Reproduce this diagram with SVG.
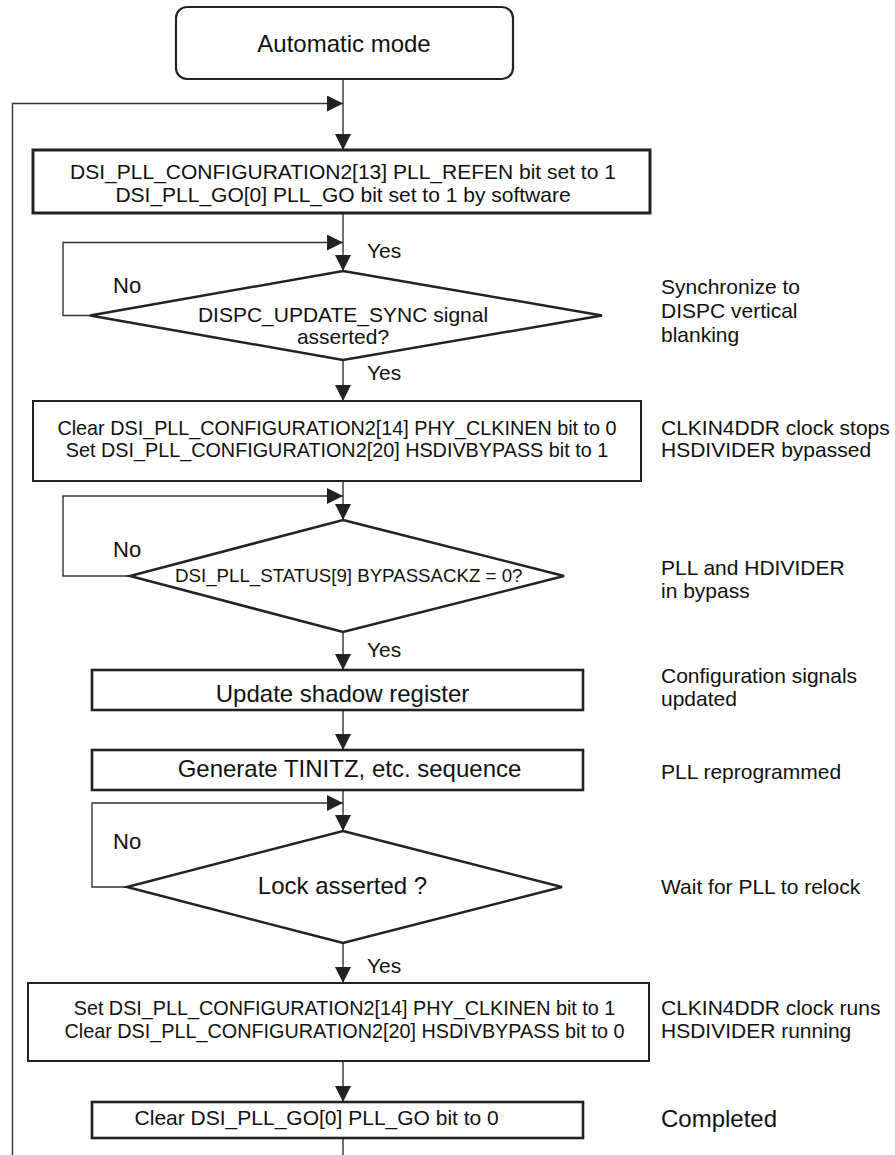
<svg xmlns="http://www.w3.org/2000/svg" width="895" height="1155" viewBox="0 0 895 1155">
<style>
text{font-family:"Liberation Sans",Arial,Helvetica,sans-serif;fill:#111;}
.c{text-anchor:middle;}
.f21{font-size:21px;}
.f20{font-size:19.8px;}
.f19{font-size:18.7px;}
.f24{font-size:24px;}
.box{fill:#fff;stroke:#222;}
.conn{fill:none;stroke:#333;stroke-width:1.4;}
</style>
<defs>
<marker id="arr" markerUnits="userSpaceOnUse" markerWidth="16" markerHeight="16" refX="16" refY="8" orient="auto" viewBox="0 0 16 16">
<path d="M0,0 L16,8 L0,16 z" fill="#222"/>
</marker>
</defs>
<rect width="895" height="1155" fill="#fff"/>
<g id="connectors">
<path class="conn" d="M343,79 V150" marker-end="url(#arr)"/>
<path class="conn" d="M343,1138 V1165 H12.5 V103.5 H343" marker-end="url(#arr)"/>
<path class="conn" d="M343,213 V271" marker-end="url(#arr)"/>
<path class="conn" d="M90,315.5 H63 V242.5 H343" marker-end="url(#arr)"/>
<path class="conn" d="M343,360 V401" marker-end="url(#arr)"/>
<path class="conn" d="M343,481 V520" marker-end="url(#arr)"/>
<path class="conn" d="M130,576 H63 V496 H343" marker-end="url(#arr)"/>
<path class="conn" d="M343,632 V670" marker-end="url(#arr)"/>
<path class="conn" d="M343,710 V750" marker-end="url(#arr)"/>
<path class="conn" d="M343,790 V831" marker-end="url(#arr)"/>
<path class="conn" d="M127,887 H92 V803 H343" marker-end="url(#arr)"/>
<path class="conn" d="M343,943 V983" marker-end="url(#arr)"/>
<path class="conn" d="M343,1061 V1102" marker-end="url(#arr)"/>
<text class="f21" x="367" y="258">Yes</text>
<text class="f22" x="113" y="293" style="font-size:22px">No</text>
<text class="f21" x="367" y="380">Yes</text>
<text x="113" y="557" style="font-size:22px">No</text>
<text class="f21" x="367" y="657">Yes</text>
<text x="113" y="849" style="font-size:22px">No</text>
<text class="f21" x="367" y="973">Yes</text>
</g>
<g id="start">
<rect class="box" x="176" y="7" width="337" height="72" rx="11" stroke-width="2.2"/>
<text class="c f24" x="344" y="52">Automatic mode</text>
</g>
<g id="set-go">
<rect class="box" x="33" y="150" width="617" height="63" stroke-width="3"/>
<text class="c f21" x="343" y="178.5">DSI_PLL_CONFIGURATION2[13] PLL_REFEN bit set to 1</text>
<text class="c f21" x="343" y="201.5">DSI_PLL_GO[0] PLL_GO bit set to 1 by software</text>
</g>
<g id="sync-decision">
<polygon class="box" points="343,271 602,315.5 343,360 90,315.5" stroke-width="2.5"/>
<text class="c f21" x="343" y="321.5">DISPC_UPDATE_SYNC signal</text>
<text class="c f21" x="343" y="343.5">asserted?</text>
</g>
<g id="bypass-set">
<rect class="box" x="33" y="401" width="608" height="80" stroke-width="2"/>
<text class="c f20" x="337" y="435">Clear DSI_PLL_CONFIGURATION2[14] PHY_CLKINEN bit to 0</text>
<text class="c f20" x="337" y="457.3">Set DSI_PLL_CONFIGURATION2[20] HSDIVBYPASS bit to 1</text>
</g>
<g id="bypass-decision">
<polygon class="box" points="343,520 564,576 343,632 130,576" stroke-width="2.5"/>
<text class="c f19" x="348.8" y="582">DSI_PLL_STATUS[9] BYPASSACKZ = 0?</text>
</g>
<g id="shadow">
<rect class="box" x="92" y="670" width="491" height="40" stroke-width="2.6"/>
<text class="c f24" x="342.5" y="702">Update shadow register</text>
</g>
<g id="tinitz">
<rect class="box" x="92" y="750" width="491" height="40" stroke-width="2.6"/>
<text class="c f24" x="349.5" y="777">Generate TINITZ, etc. sequence</text>
</g>
<g id="lock-decision">
<polygon class="box" points="343,831 562,887 343,943 127,887" stroke-width="2.5"/>
<text class="c f24" x="342.5" y="894">Lock asserted ?</text>
</g>
<g id="bypass-clear">
<rect class="box" x="28" y="983" width="621" height="78" stroke-width="2"/>
<text class="c f20" x="344.5" y="1015">Set DSI_PLL_CONFIGURATION2[14] PHY_CLKINEN bit to 1</text>
<text class="c f20" x="344.5" y="1038">Clear DSI_PLL_CONFIGURATION2[20] HSDIVBYPASS bit to 0</text>
</g>
<g id="go-clear">
<rect class="box" x="92" y="1102" width="491" height="36" stroke-width="2.6"/>
<text class="c f21" x="316.7" y="1125">Clear DSI_PLL_GO[0] PLL_GO bit to 0</text>
</g>
<g id="notes">
<text class="f21" x="661" y="294">Synchronize to</text>
<text class="f21" x="661" y="318">DISPC vertical</text>
<text class="f21" x="661" y="342">blanking</text>
<text class="f21" x="661" y="435">CLKIN4DDR clock stops</text>
<text class="f21" x="661" y="457">HSDIVIDER bypassed</text>
<text class="f21" x="661" y="575">PLL and HDIVIDER</text>
<text class="f21" x="661" y="598">in bypass</text>
<text class="f21" x="661" y="683">Configuration signals</text>
<text class="f21" x="661" y="706">updated</text>
<text class="f21" x="661" y="779">PLL reprogrammed</text>
<text class="f21" x="661" y="894">Wait for PLL to relock</text>
<text class="f21" x="661" y="1015">CLKIN4DDR clock runs</text>
<text class="f21" x="661" y="1038">HSDIVIDER running</text>
<text class="f24" x="661" y="1127">Completed</text>
</g>
</svg>
